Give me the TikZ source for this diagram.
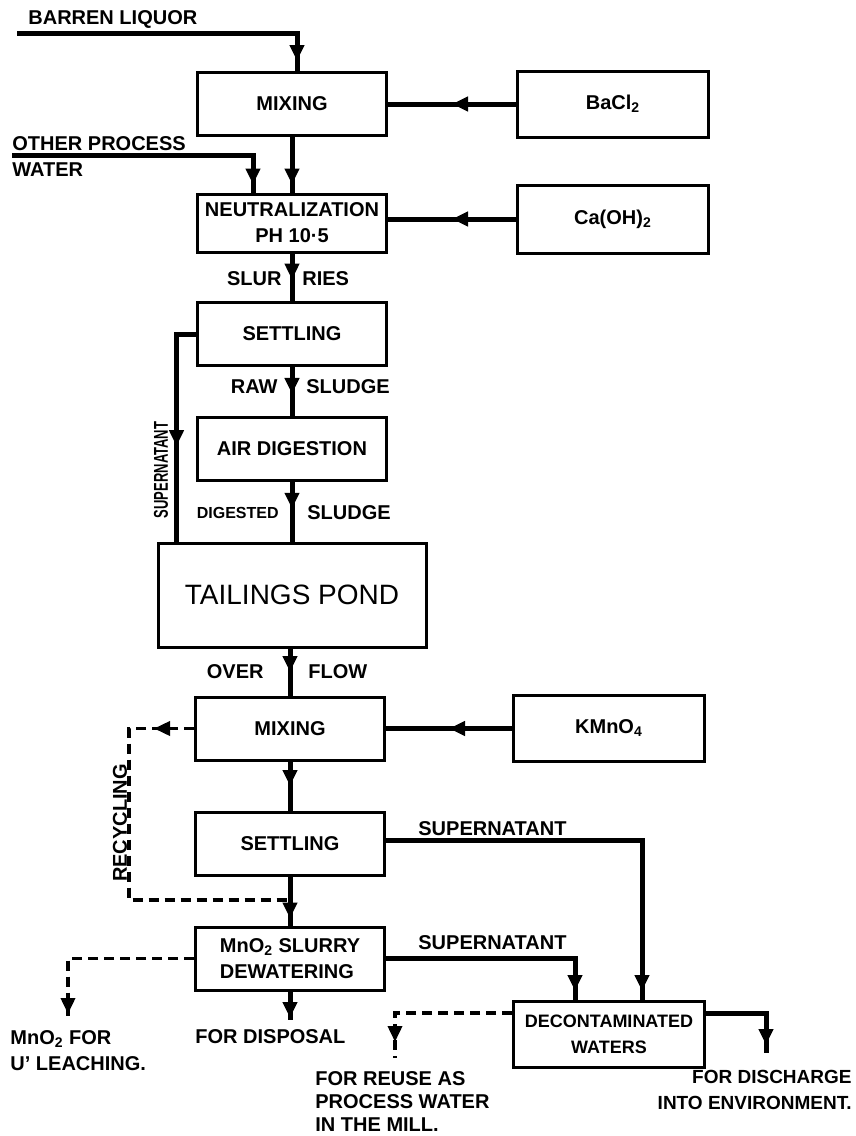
\documentclass[tikz,border=0pt]{standalone}
\usepackage{fontspec}
\setmainfont{Liberation Sans}
\usetikzlibrary{arrows.meta,decorations.markings}

\tikzset{
  unit/.style={draw, line width=1.5pt, minimum width=94.5pt, minimum height=31.5pt,
    inner sep=0pt, align=center, font=\bfseries\fontsize{10}{13}\selectfont},
  feed/.style={unit, minimum width=95.5pt, minimum height=33pt},
  lbl/.style={inner sep=0pt, font=\bfseries\fontsize{10}{13}\selectfont},
  flow/.style={line width=2.5pt},
  recycle/.style={line width=1.8pt, dash pattern=on 5pt off 3pt},
  arr/.style={postaction={decorate}, decoration={markings,
    mark=at position #1 with {\arrow{Triangle[length=8pt,width=7pt]}}}}
}

\begin{document}
\begin{tikzpicture}[x=0.5pt, y=-0.5pt]
\useasboundingbox (0,0) rectangle (856,1136);

% process units
\node[unit] (mix1) at (292,104) {MIXING};
\node[feed] (bacl) at (613,104) {BaCl\textsubscript{2}};
\node[unit, minimum height=29pt] (neut) at (292,223) {NEUTRALIZATION\\PH 10·5};
\node[feed, minimum height=34pt] (caoh) at (613,219) {Ca(OH)\textsubscript{2}};
\node[unit] (settle1) at (292,334) {SETTLING};
\node[unit] (air) at (292,449) {AIR DIGESTION};
\node[unit, minimum width=134pt, minimum height=52pt, font=\fontsize{14}{16}\selectfont] (pond) at (292,595) {TAILINGS POND};
\node[unit] (mix2) at (290,728.5) {MIXING};
\node[feed] (kmno) at (609,728.5) {KMnO\textsubscript{4}};
\node[unit] (settle2) at (290,843.5) {SETTLING};
\node[unit, align=left] (dewater) at (290,958.5) {MnO\textsubscript{2} SLURRY\\DEWATERING};
\node[feed, font=\bfseries\fontsize{9}{13}\selectfont] (decon) at (609,1034.5) {DECONTAMINATED\\WATERS};

% free ends
\coordinate (barrenin) at (17,33);
\coordinate (otherin) at (12,155);
\coordinate (recycjoin) at (290,900);
\coordinate (leachend) at (68,1016);
\coordinate (disposend) at (290,1020);
\coordinate (reuseend) at (395,1058);
\coordinate (dischargeend) at (766,1053);

% connectors
\draw[flow, arr=-5pt] (barrenin) -| ([xshift=2.5pt]mix1.north);
\draw[flow, arr=-4pt] (mix1) -- (neut);
\draw[flow, arr=-4pt] (otherin) -| ([xshift=-19.5pt]neut.north);
\draw[flow, arr=0.5] (bacl) -- (mix1);
\draw[flow, arr=0.5] (caoh.west) -- (caoh.west -| neut.east);
\draw[flow, arr=0.55] (neut) -- (settle1);
\draw[flow, arr=0.55] (settle1) -- (air);
\draw[flow, arr=0.45] (air) -- (pond);
\draw[flow, arr=0.58] (settle1.west) -| ([xshift=10pt]pond.north west);
\draw[flow, arr=0.5] (pond.south -| mix2) -- (mix2);
\draw[flow, arr=0.5] (kmno) -- (mix2);
\draw[flow, arr=0.5] (mix2) -- (settle2);
\draw[flow, arr=-3.5pt] (settle2) -- (dewater);
\draw[recycle, arr=20pt] (mix2.west) -- ++(-65,0) |- (recycjoin);
\draw[flow, arr=-4.5pt] ([yshift=1.75pt]settle2.east) -| ([xshift=16.5pt]decon.north);
\draw[flow, arr=-4.5pt] (dewater.east) -| ([xshift=-17pt]decon.north);
\draw[recycle, arr=-1pt] (dewater.west) -| (leachend);
\draw[flow, arr=-1pt] (dewater) -- (disposend);
\draw[recycle, arr=-8pt] ([yshift=10.75pt]decon.west) -| (reuseend);
\draw[flow, arr=-4pt] ([yshift=10.75pt]decon.east) -| (dischargeend);

% labels
\node[lbl, anchor=west] (barren) at (28,19) {BARREN LIQUOR};
\node[lbl, anchor=west] (other) at (12,144) {OTHER PROCESS};
\node[lbl, anchor=west] (water) at (12,170) {WATER};
\node[lbl, anchor=east] (slur) at (282,279) {SLUR};
\node[lbl, anchor=west] (ries) at (302,279) {RIES};
\node[lbl, anchor=east] (raw) at (278,387) {RAW};
\node[lbl, anchor=west] (rawsludge) at (306,387) {SLUDGE};
\node[lbl, anchor=east, font=\bfseries\fontsize{8}{10}\selectfont] (digested) at (279,513) {DIGESTED};
\node[lbl, anchor=west] (digsludge) at (307,513) {SLUDGE};
\node[lbl, rotate=90] (supleft) at (161,470) {\scalebox{0.65}[1]{SUPERNATANT}};
\node[lbl, anchor=east] (over) at (264,672) {OVER};
\node[lbl, anchor=west] (flowlbl) at (308,672) {FLOW};
\node[lbl, rotate=90] (recyc) at (120,823) {RECYCLING};
\node[lbl, anchor=west] (supsettle) at (418,829) {SUPERNATANT};
\node[lbl, anchor=west] (supdewater) at (418,943) {SUPERNATANT};
\node[lbl, anchor=north west, align=left] (leach) at (10,1030) {MnO\textsubscript{2} FOR\\U' LEACHING.};
\node[lbl, anchor=west] (dispos) at (195,1037) {FOR DISPOSAL};
\node[lbl, anchor=north west, align=left, font=\bfseries\fontsize{10}{11.5}\selectfont] (reuse) at (315,1071) {FOR REUSE AS\\PROCESS WATER\\IN THE MILL.};
\node[lbl, anchor=north east, align=right, font=\bfseries\fontsize{9.5}{13}\selectfont] (discharge) at (852,1070) {FOR DISCHARGE\\INTO ENVIRONMENT.};
\end{tikzpicture}
\end{document}
